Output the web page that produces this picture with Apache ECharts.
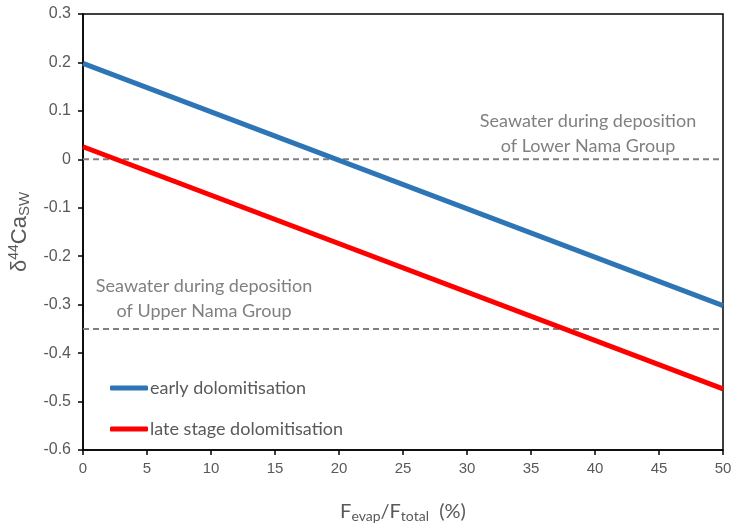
<!DOCTYPE html>
<html><head><meta charset="utf-8">
<script src="https://cdn.jsdelivr.net/npm/echarts@6/dist/echarts.min.js"></script>
<style>html,body{margin:0;padding:0;background:#fff}#c{width:731px;height:525px}</style>
</head><body><div id="c"></div>
<script>
const xValues = [0, 50];
const earlyDolo = [0.198, -0.302];
const lateDolo = [0.026, -0.474];
const lowerNama = [0, 0];
const upperNama = [-0.35, -0.35];
const seriesNames = ['early dolomitisation', 'late stage dolomitisation'];
const xTicks = {min: 0, max: 50, interval: 5};
const yTicks = {min: -0.6, max: 0.3, interval: 0.1};

const font = 'Lato, "Open Sans", sans-serif';
const arial = '"Liberation Sans", Arial, sans-serif';
const gray = '#595959';
const pair = (ys) => xValues.map((x, i) => [x, ys[i]]);

const chart = echarts.init(document.getElementById('c'));
chart.setOption({
  animation: false,
  backgroundColor: '#fff',
  textStyle: {fontFamily: font},
  grid: {left: 83, right: 8, top: 14, bottom: 75, containLabel: false, outerBoundsMode: 'none',
    show: true, borderColor: '#000', borderWidth: 1.5},
  xAxis: {
    type: 'value', min: xTicks.min, max: xTicks.max, interval: xTicks.interval,
    splitLine: {show: false},
    axisLine: {onZero: false, lineStyle: {color: '#000', width: 1.5}},
    axisTick: {inside: false, length: 5, lineStyle: {color: '#000', width: 1.5}},
    axisLabel: {color: gray, fontSize: 15, fontFamily: arial, margin: 11},
    name: '{m|F}{s|evap}{m|/F}{s|total}{m|  (%)}',
    nameLocation: 'middle', nameGap: 50,
    nameTextStyle: {rich: {
      m: {fontSize: 20, color: gray, fontFamily: font},
      s: {fontSize: 14, color: gray, fontFamily: font, verticalAlign: 'bottom', padding: [9, 0, 0, 0]}
    }}
  },
  yAxis: {
    type: 'value', min: yTicks.min, max: yTicks.max, interval: yTicks.interval,
    splitLine: {show: false},
    axisLine: {onZero: false, lineStyle: {color: '#000', width: 1.5}},
    axisTick: {inside: false, length: 5, lineStyle: {color: '#000', width: 1.5}},
    axisLabel: {color: gray, fontSize: 16, fontFamily: arial, margin: 12,
      formatter: v => (Math.round(v * 10) / 10).toString()},
    name: '{m|δ}{p|44}{m|Ca}{s|SW}',
    nameLocation: 'middle', nameGap: 50, nameRotate: 90,
    nameTextStyle: {rich: {
      m: {fontSize: 22, color: gray, fontFamily: arial},
      p: {fontSize: 14, color: gray, fontFamily: arial, padding: [0, 0, 11, 0]},
      s: {fontSize: 15, color: gray, fontFamily: arial, padding: [11, 0, 0, 0]}
    }}
  },
  legend: {
    data: seriesNames, orient: 'vertical', left: 105, top: 374,
    itemWidth: 38, itemHeight: 5, itemGap: 23, icon: 'roundRect',
    textStyle: {color: gray, fontSize: 18, fontFamily: font, padding: [0, 0, 0, -3]}
  },
  graphic: [
    {type: 'text', style: {text: 'Seawater during deposition\nof Lower Nama Group', x: 588, y: 109, fill: '#808080', font: '18px ' + font, textAlign: 'center', lineHeight: 25}},
    {type: 'text', style: {text: 'Seawater during deposition\nof Upper Nama Group', x: 204, y: 274, fill: '#808080', font: '18px ' + font, textAlign: 'center', lineHeight: 25}}
  ],
  series: [
    {name: 'Lower Nama', type: 'line', data: pair(lowerNama), symbol: 'none', z: 1,
      lineStyle: {color: '#808080', width: 2, type: [6, 4]}},
    {name: 'Upper Nama', type: 'line', data: pair(upperNama), symbol: 'none', z: 1,
      lineStyle: {color: '#808080', width: 2, type: [6, 4]}},
    {name: seriesNames[0], type: 'line', data: pair(earlyDolo), symbol: 'none', z: 3,
      color: '#2E75B6', lineStyle: {color: '#2E75B6', width: 5}},
    {name: seriesNames[1], type: 'line', data: pair(lateDolo), symbol: 'none', z: 3,
      color: '#FF0000', lineStyle: {color: '#FF0000', width: 5}}
  ]
});
</script></body></html>
